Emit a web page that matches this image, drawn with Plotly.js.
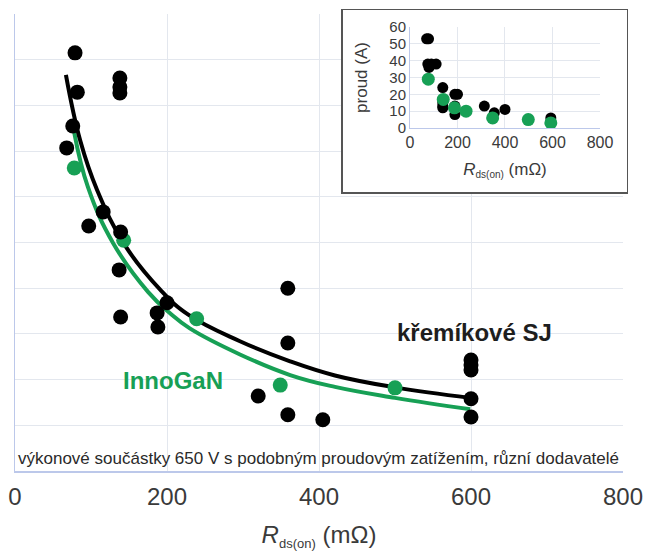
<!DOCTYPE html>
<html><head><meta charset="utf-8">
<script src="https://cdn.plot.ly/plotly-3.0.1.min.js"></script>
<style>html,body{margin:0;padding:0;background:#fff}</style>
</head><body>
<div id="chart" style="width:649px;height:551px"></div>
<script>
// ---- main chart data (Rds(on) in mOhm vs relative value) ----
const mainSiR  = [79, 82, 76, 68, 138, 138, 138, 116, 97, 139, 137, 139, 200, 187, 188, 359, 359, 320, 359, 405, 600, 600, 600, 600, 600];
const mainSiV  = [9.15, 8.29, 7.55, 7.07, 8.60, 8.40, 8.27, 5.67, 5.36, 5.23, 4.40, 3.37, 3.68, 3.46, 3.15, 4.00, 2.80, 1.64, 1.23, 1.12, 2.43, 2.32, 2.21, 1.58, 1.18];
const mainGaNR = [78, 143, 239, 349, 500];
const mainGaNV = [6.63, 5.05, 3.33, 1.88, 1.82];
// trend curves
const siFitR  = [67, 86, 108, 145, 191, 228, 296, 362, 421, 500, 599];
const siFitV  = [8.67, 7.22, 6.15, 4.93, 3.97, 3.42, 2.84, 2.40, 2.09, 1.83, 1.60];
const ganFitR = [78, 96, 129, 175, 204, 230, 296, 362, 421, 500, 599];
const ganFitV = [7.40, 6.21, 4.99, 3.92, 3.45, 3.12, 2.55, 2.10, 1.84, 1.60, 1.35];
// ---- inset data (current in A) ----
const insetSiR  = [70, 78, 75, 80, 90, 110, 138, 138, 138, 138, 189, 200, 189, 189, 313, 355, 400, 593];
const insetSiA  = [53, 53, 38, 36, 38, 38, 24, 15, 13, 12, 20, 20, 13, 8, 13, 9, 11, 6];
const insetGaNR = [77, 140, 187, 236, 348, 498, 593];
const insetGaNA = [29, 17, 12, 10, 6, 5, 3];
const xTicks = [0, 200, 400, 600, 800];
const xTickText = ['0', '200', '400', '600', '800'];

const GREEN = '#17a055';
const FONT = 'Liberation Sans, Arial, sans-serif';
const GRID = '#e3e7ee';
const AXBLUE = '#bcc8ea';
const TXT = '#3a3a3a';

const traces = [
  {x: ganFitR, y: ganFitV, mode: 'lines', line: {color: GREEN, width: 4, shape: 'spline', smoothing: 1.2}, xaxis: 'x', yaxis: 'y', hoverinfo: 'skip'},
  {x: siFitR, y: siFitV, mode: 'lines', line: {color: '#000', width: 4, shape: 'spline', smoothing: 1.2}, xaxis: 'x', yaxis: 'y', hoverinfo: 'skip'},
  {x: mainGaNR, y: mainGaNV, mode: 'markers', marker: {color: GREEN, size: 15}, xaxis: 'x', yaxis: 'y'},
  {x: mainSiR, y: mainSiV, mode: 'markers', marker: {color: '#000', size: 15}, xaxis: 'x', yaxis: 'y'},
  {x: [], y: [], mode: 'markers', xaxis: 'x2', yaxis: 'y2'},
  {x: insetSiR, y: insetSiA, mode: 'markers', marker: {color: '#000', size: 11}, xaxis: 'x3', yaxis: 'y3'},
  {x: insetGaNR, y: insetGaNA, mode: 'markers', marker: {color: GREEN, size: 13}, xaxis: 'x3', yaxis: 'y3'}
];

const layout = {
  width: 649, height: 551,
  margin: {l: 15, r: 20, t: 8, b: 80},
  paper_bgcolor: '#fff', plot_bgcolor: '#fff',
  showlegend: false,
  font: {family: FONT, color: TXT},
  xaxis: {
    domain: [0, 0.99023], range: [0, 800], tickvals: xTicks, ticktext: xTickText,
    showgrid: true, gridcolor: GRID, gridwidth: 1, zeroline: false,
    showline: true, linecolor: AXBLUE, linewidth: 1.5,
    ticks: 'outside', ticklen: 4, tickcolor: 'rgba(0,0,0,0)',
    tickfont: {size: 24, color: TXT, family: FONT},
    title: {text: '<i>R</i><sub><span style="font-size:13px">ds(on)</span></sub> (mΩ)', font: {size: 24, color: TXT, family: FONT}, standoff: 32},
    anchor: 'y', fixedrange: true
  },
  yaxis: {
    domain: [0, 0.98704], range: [0, 10], dtick: 1,
    showgrid: true, gridcolor: GRID, gridwidth: 1, zeroline: false,
    showline: true, linecolor: AXBLUE, linewidth: 1.5,
    showticklabels: false, ticks: '', anchor: 'x', fixedrange: true
  },
  xaxis2: {
    domain: [0.53420, 0.99674], range: [0, 1], anchor: 'y2',
    showgrid: false, zeroline: false, showticklabels: false, ticks: '',
    showline: true, mirror: true, linecolor: '#555', linewidth: 1.5, fixedrange: true
  },
  yaxis2: {
    domain: [0.60259, 0.99568], range: [0, 1], anchor: 'x2',
    showgrid: false, zeroline: false, showticklabels: false, ticks: '',
    showline: true, mirror: true, linecolor: '#555', linewidth: 1.5, fixedrange: true
  },
  xaxis3: {
    domain: [0.64332, 0.95277], range: [0, 800], tickvals: xTicks, ticktext: xTickText, anchor: 'y3',
    showgrid: true, gridcolor: GRID, zeroline: false,
    showline: true, linecolor: AXBLUE, linewidth: 1,
    ticks: '', tickfont: {size: 16, color: TXT, family: FONT},
    title: {text: '<i>R</i><sub><span style="font-size:10px">ds(on)</span></sub> (mΩ)', font: {size: 17, color: TXT, family: FONT}, standoff: 12},
    fixedrange: true
  },
  yaxis3: {
    domain: [0.74082, 0.95896], range: [0, 60], dtick: 10, anchor: 'x3',
    showgrid: true, gridcolor: GRID, zeroline: false,
    showline: true, linecolor: AXBLUE, linewidth: 1,
    ticks: '', tickfont: {size: 15, color: TXT, family: FONT},
    title: {text: 'proud (A)', font: {size: 17, color: TXT, family: FONT}, standoff: 17},
    fixedrange: true
  },
  annotations: [
    {x: 208, y: 1.99, xref: 'x', yref: 'y', text: 'InnoGaN', showarrow: false,
     font: {size: 24, color: GREEN, family: FONT, weight: 'bold'}},
    {x: 605, y: 3.04, xref: 'x', yref: 'y', text: 'křemíkové SJ', showarrow: false,
     font: {size: 24, color: '#1e1e1e', family: FONT, weight: 'bold'}},
    {x: 399, y: 0.28, xref: 'x', yref: 'y', text: 'výkonové součástky 650 V s podobným proudovým zatížením, různí dodavatelé', showarrow: false,
     font: {size: 17, color: '#2a2a2a', family: FONT}}
  ]
};

Plotly.newPlot('chart', traces, layout, {staticPlot: true, displayModeBar: false});
</script>
</body></html>
